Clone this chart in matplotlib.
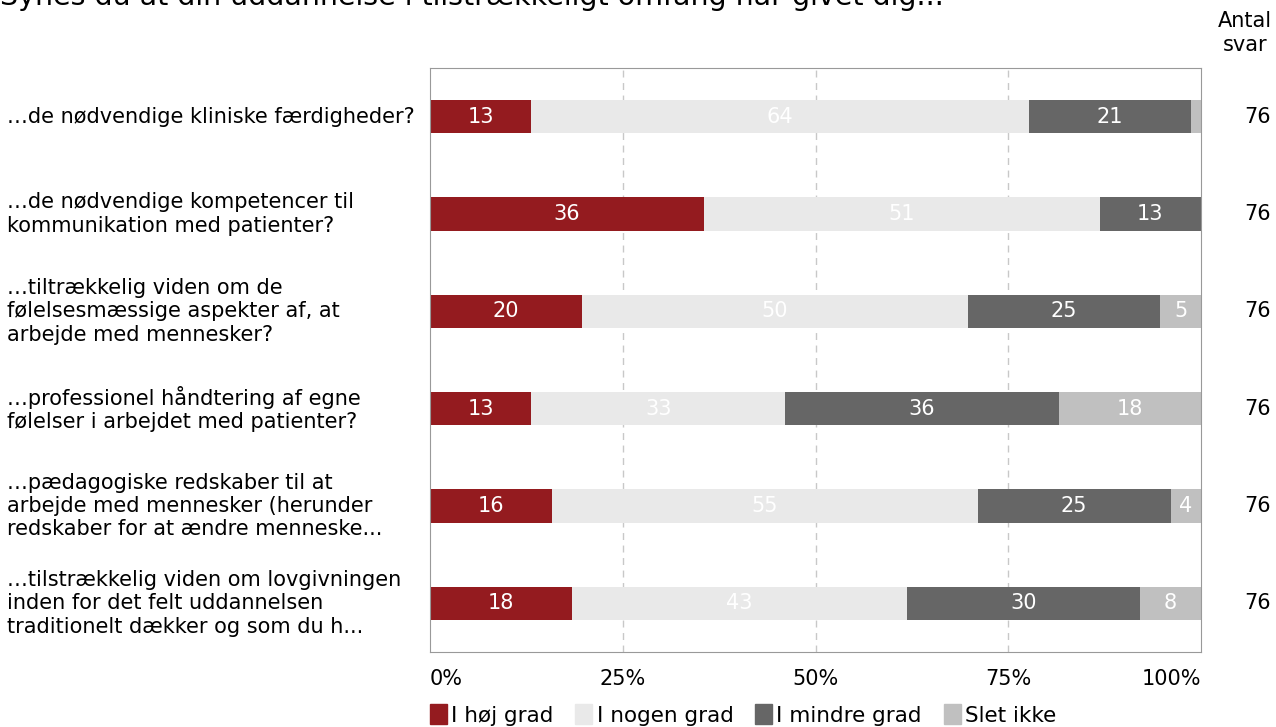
import matplotlib.pyplot as plt
from matplotlib.patches import Patch
import numpy as np

plt.rcParams["font.family"] = ["DejaVu Sans"]

title = "Synes du at din uddannelse i tilstrækkeligt omfang har givet dig..."
questions = [
    "…de nødvendige kliniske færdigheder?",
    "…de nødvendige kompetencer til\nkommunikation med patienter?",
    "…tiltrækkelig viden om de\nfølelsesmæssige aspekter af, at\narbejde med mennesker?",
    "…professionel håndtering af egne\nfølelser i arbejdet med patienter?",
    "…pædagogiske redskaber til at\narbejde med mennesker (herunder\nredskaber for at ændre menneske...",
    "…tilstrækkelig viden om lovgivningen\ninden for det felt uddannelsen\ntraditionelt dækker og som du h...",
]
categories = ["I høj grad", "I nogen grad", "I mindre grad", "Slet ikke"]
# number of answers per category, per question
hoj = [10, 27, 15, 10, 12, 14]
nogen = [49, 39, 38, 25, 42, 33]
mindre = [16, 10, 19, 27, 19, 23]
slet = [1, 0, 4, 14, 3, 6]
antal = [76, 76, 76, 76, 76, 76]

colors = ["#941b1f", "#e9e9e9", "#666666", "#c0c0c0"]
fs = 15

counts = np.array([hoj, nogen, mindre, slet], dtype=float)
pct = counts / np.array(antal) * 100

fig = plt.figure(figsize=(12.76, 7.27), dpi=100)
ax = fig.add_axes([430 / 1276, 1 - 652 / 727, 771 / 1276, 584 / 727])

y = np.arange(len(questions))
left = np.zeros(len(questions))
for k in range(4):
    ax.barh(y, pct[k], left=left, height=0.34, color=colors[k], zorder=2)
    for i in range(len(questions)):
        v = pct[k][i]
        if round(v) >= 3:
            ax.text(left[i] + v / 2, y[i], f"{round(v)}", ha="center", va="center",
                    color="white", fontsize=fs, zorder=3)
    left += pct[k]

ax.set_xlim(0, 100)
ax.set_ylim(len(questions) - 0.5, -0.5)
ax.set_yticks([])
ax.set_xticks([0, 25, 50, 75, 100])
ax.set_xticklabels(["0%", "25%", "50%", "75%", "100%"], fontsize=fs)
ax.tick_params(axis="x", length=0, pad=12)
labs = ax.get_xticklabels()
labs[0].set_ha("left")
labs[-1].set_ha("right")
for xv in [25, 50, 75]:
    ax.axvline(xv, color="#c8c8c8", linestyle=(0, (5, 4)), linewidth=1, zorder=1)
for s in ax.spines.values():
    s.set_color("#999999")

for i, q in enumerate(questions):
    ax.text(-0.548, y[i], q, transform=ax.get_yaxis_transform(), ha="left", va="center",
            fontsize=fs, linespacing=1.2)
    ax.text(1.074, y[i], str(antal[i]), transform=ax.get_yaxis_transform(), ha="center",
            va="center", fontsize=fs)

fig.text(1245 / 1276, 1 - 33 / 727, "Antal\nsvar", ha="center", va="center", fontsize=fs,
         linespacing=1.2)
fig.text(0, 1 + 3 / 727, title, ha="left", va="center", fontsize=20.5)

handles = [Patch(color=c) for c in colors]
fig.legend(handles, categories, loc="center left", bbox_to_anchor=(421 / 1276, 1 - 715 / 727),
           ncol=4, frameon=False, fontsize=15.5, handlelength=0.8, handleheight=1.0,
           handletextpad=0.2, columnspacing=1.0, borderaxespad=0)

fig.savefig("out.png", dpi=100)
